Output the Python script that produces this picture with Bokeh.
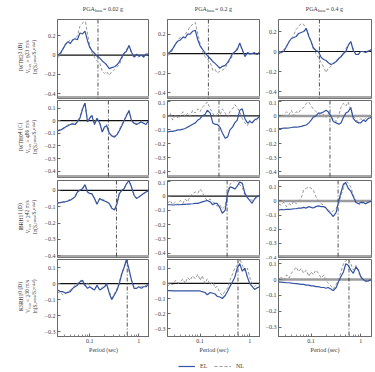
from bokeh.plotting import figure
from bokeh.models import (Span, Label, BoxAnnotation, FixedTicker, CustomJSTickFormatter,
                          Range1d, Legend, LegendItem)
from bokeh.layouts import column, row
from bokeh.embed import file_html
from bokeh.resources import INLINE

FONT = "Liberation Serif"
EL_COLOR = "#3353a3"
NL_COLOR = "#8c8c8c"
TXT = "#3a3a3a"

# ---------------- data ----------------
periods = [0.022, 0.025, 0.028, 0.032, 0.036, 0.04, 0.045, 0.05, 0.056, 0.063,
           0.071, 0.08, 0.09, 0.1, 0.11, 0.125, 0.14, 0.16, 0.18, 0.2,
           0.22, 0.25, 0.28, 0.32, 0.36, 0.4, 0.45, 0.5, 0.56, 0.63,
           0.71, 0.8, 0.9, 1.0, 1.12, 1.25, 1.4, 1.65]
pga_levels = ["0.02", "0.2", "0.4"]
sites = ["IWTH23 (B)", "IWTH04 (C)", "IBRH11 (D)", "KSRH10 (D)"]
vs30 = [923, 486, 242, 230]
site_t0 = [0.147, 0.24, 0.35, 0.58]
x_ticks = [0.1, 1]

el_r1c1 = [0.0, 0.02, 0.06, 0.11, 0.14, 0.12, 0.16, 0.17, 0.16, 0.23,
           0.22, 0.25, 0.15, 0.08, 0.05, 0.02, -0.01, -0.03, -0.06, -0.08,
           -0.1, -0.14, -0.13, -0.12, -0.1, -0.07, -0.02, 0.02, 0.04, 0.1,
           0.03, -0.02, 0.01, -0.01, 0.0, -0.02, 0.01, 0.01]
nl_r1c1 = [-0.03, 0.0, 0.05, 0.12, 0.13, 0.16, 0.15, 0.17, 0.2, 0.3,
           0.33, 0.38, 0.22, 0.1, 0.03, -0.02, -0.06, -0.08, -0.17, -0.19,
           -0.17, -0.21, -0.17, -0.15, -0.12, -0.1, -0.04, 0.02, 0.06, 0.1,
           0.02, -0.03, 0.0, -0.02, 0.0, -0.02, 0.0, 0.02]
el_r1c2 = [0.0, 0.02, 0.05, 0.1, 0.13, 0.14, 0.17, 0.16, 0.2, 0.2,
           0.23, 0.24, 0.14, 0.08, 0.05, 0.01, -0.02, -0.05, -0.08, -0.1,
           -0.12, -0.15, -0.13, -0.12, -0.09, -0.05, 0.0, 0.02, 0.04, 0.11,
           0.04, -0.03, 0.01, 0.0, 0.0, 0.01, -0.01, 0.02]
nl_r1c2 = [-0.02, 0.0, 0.04, 0.1, 0.14, 0.17, 0.16, 0.2, 0.23, 0.28,
           0.3, 0.32, 0.2, 0.1, 0.03, -0.03, -0.06, -0.09, -0.17, -0.16,
           -0.2, -0.18, -0.17, -0.15, -0.1, -0.07, -0.02, 0.02, 0.06, 0.1,
           0.03, -0.02, 0.0, -0.01, 0.0, -0.01, 0.0, 0.02]
el_r1c3 = [-0.02, -0.01, 0.0, 0.05, 0.1, 0.13, 0.14, 0.15, 0.18, 0.19,
           0.2, 0.23, 0.15, 0.1, 0.04, 0.01, 0.0, -0.06, -0.08, -0.09,
           -0.11, -0.13, -0.12, -0.1, -0.07, -0.05, -0.02, 0.0, 0.06, 0.1,
           0.01, -0.03, -0.03, 0.0, 0.0, -0.01, 0.0, 0.02]
nl_r1c3 = [-0.02, 0.0, 0.02, 0.06, 0.1, 0.12, 0.17, 0.22, 0.25, 0.28,
           0.27, 0.22, 0.16, 0.1, 0.03, -0.02, -0.06, -0.11, -0.16, -0.21,
           -0.17, -0.15, -0.12, -0.1, -0.08, -0.06, -0.01, 0.03, 0.07, 0.1,
           0.02, -0.03, -0.02, 0.0, 0.0, -0.01, 0.01, 0.02]

el_r2c1 = [-0.08, -0.075, -0.065, -0.05, -0.04, -0.03, -0.025, -0.03, -0.01, 0.02,
           0.09, 0.14, -0.01, 0.02, 0.04, -0.03, 0.02, -0.02, -0.09, -0.05,
           -0.04, -0.1, -0.12, -0.13, -0.11, -0.08, -0.04, 0.0, 0.04, 0.08,
           0.0, -0.02, -0.03, -0.02, -0.01, -0.02, -0.03, 0.01]
nl_r2c1 = [-0.08, -0.07, -0.06, -0.05, -0.03, -0.03, -0.02, -0.03, 0.0, 0.03,
           0.1, 0.14, 0.0, 0.02, 0.05, -0.02, 0.02, -0.02, -0.08, -0.05,
           -0.03, -0.09, -0.12, -0.12, -0.11, -0.07, -0.03, 0.0, 0.05, 0.08,
           0.0, -0.02, -0.02, -0.02, 0.0, -0.02, -0.02, 0.01]
el_r2c2 = [-0.115, -0.11, -0.11, -0.105, -0.1, -0.1, -0.095, -0.09, -0.08, -0.07,
           -0.06, -0.05, -0.03, -0.02, 0.0, 0.01, 0.04, 0.02, -0.05, -0.06,
           -0.06, -0.08, -0.12, -0.16, -0.15, -0.1, -0.08, -0.05, -0.03, 0.04,
           0.05, -0.02, -0.05, -0.04, -0.05, -0.03, -0.02, 0.0]
nl_r2c2 = [-0.01, 0.02, -0.03, 0.01, -0.02, 0.0, 0.03, -0.01, 0.02, 0.0,
           0.04, 0.02, 0.05, 0.03, 0.06, 0.08, 0.1, 0.05, 0.02, -0.01,
           0.02, 0.0, 0.05, 0.02, -0.01, 0.03, 0.05, 0.08, 0.06, 0.03,
           -0.02, -0.05, -0.07, -0.03, -0.05, -0.02, -0.03, 0.0]
el_r2c3 = [-0.09, -0.09, -0.088, -0.087, -0.085, -0.083, -0.08, -0.08, -0.078, -0.075,
           -0.07, -0.065, -0.05, -0.03, -0.01, 0.0, 0.02, 0.02, 0.03, 0.04,
           0.03, 0.0, -0.04, -0.05, -0.06, -0.05, -0.01, 0.02, 0.03, 0.06,
           -0.02, -0.04, -0.05, -0.05, -0.03, -0.04, -0.02, -0.01]
nl_r2c3 = [-0.01, 0.01, 0.0, 0.03, 0.01, 0.04, 0.0, 0.03, 0.02, 0.05,
           0.06, 0.09, 0.1, 0.07, 0.05, 0.03, 0.02, 0.0, 0.01, -0.01,
           0.02, -0.01, -0.02, -0.04, 0.0, 0.06, 0.09, 0.07, 0.1, 0.04,
           0.0, -0.03, -0.04, -0.02, -0.03, -0.02, -0.01, 0.0]

el_r3c1 = [-0.078, -0.075, -0.072, -0.07, -0.065, -0.06, -0.05, -0.04, -0.01, 0.0,
           0.01, 0.035, -0.01, -0.02, -0.02, -0.05, -0.085, -0.05, -0.06, -0.065,
           -0.07, -0.08, -0.11, -0.12, -0.08, -0.02, 0.0, 0.01, 0.04, 0.06,
           0.02, -0.03, -0.05, -0.04, -0.03, -0.02, -0.01, 0.0]
nl_r3c1 = [-0.075, -0.074, -0.07, -0.068, -0.062, -0.055, -0.05, -0.035, -0.01, 0.005,
           0.01, 0.03, -0.01, -0.015, -0.02, -0.05, -0.08, -0.05, -0.055, -0.06,
           -0.07, -0.08, -0.1, -0.115, -0.08, -0.02, 0.0, 0.01, 0.04, 0.055,
           0.02, -0.03, -0.05, -0.04, -0.03, -0.02, -0.01, 0.0]
el_r3c2 = [-0.06, -0.06, -0.062, -0.06, -0.06, -0.06, -0.058, -0.057, -0.055, -0.055,
           -0.053, -0.05, -0.05, -0.045, -0.04, -0.035, -0.03, -0.04, -0.06, -0.05,
           -0.05, -0.08, -0.12, -0.1, 0.02, 0.065, 0.06, 0.05, 0.07, 0.1,
           0.09, 0.02, -0.01, -0.03, -0.05, -0.02, 0.0, 0.0]
nl_r3c2 = [-0.05, -0.03, -0.06, -0.04, -0.06, -0.03, -0.05, -0.02, -0.04, 0.0,
           0.02, 0.03, 0.02, 0.05, 0.03, -0.01, -0.03, -0.02, -0.04, -0.05,
           -0.07, -0.06, -0.09, -0.07, 0.04, 0.08, 0.11, 0.1, 0.11, 0.08,
           0.06, 0.01, -0.01, -0.02, -0.03, -0.02, -0.01, 0.0]
el_r3c3 = [-0.065, -0.06, -0.062, -0.06, -0.06, -0.058, -0.055, -0.055, -0.05, -0.05,
           -0.045, -0.05, -0.04, -0.045, -0.05, -0.04, -0.035, -0.04, -0.04, -0.05,
           -0.07, -0.09, -0.11, -0.08, 0.0, 0.06, 0.12, 0.13, 0.09, 0.07,
           0.03, -0.01, -0.02, -0.01, -0.01, -0.02, -0.01, 0.0]
nl_r3c3 = [-0.02, -0.03, -0.01, -0.04, -0.02, -0.03, 0.0, -0.02, 0.0, 0.02,
           0.08, 0.09, 0.1, 0.09, 0.08, 0.03, 0.0, -0.02, -0.03, -0.05,
           -0.06, -0.08, -0.07, -0.05, -0.02, 0.04, 0.09, 0.14, 0.13, 0.1,
           0.04, 0.0, -0.02, -0.03, -0.01, -0.02, -0.01, 0.0]

el_r4c1 = [-0.04, -0.05, -0.05, -0.06, -0.055, -0.05, -0.03, -0.02, -0.01, 0.01,
           0.02, -0.01, -0.03, -0.02, -0.03, -0.04, -0.01, -0.04, -0.03, -0.02,
           0.0, -0.06, -0.1, -0.07, -0.04, 0.0, 0.06, 0.1, 0.15, 0.09,
           0.02, -0.03, -0.03, -0.02, -0.03, -0.02, -0.02, 0.0]
nl_r4c1 = [-0.06, -0.05, -0.07, -0.06, -0.05, -0.04, -0.03, -0.01, 0.0, 0.02,
           0.01, -0.02, 0.01, -0.02, -0.03, -0.03, -0.02, -0.04, -0.02, -0.03,
           -0.01, -0.05, -0.09, -0.06, -0.03, 0.01, 0.07, 0.1, 0.14, 0.08,
           0.02, -0.02, -0.03, -0.02, -0.02, -0.02, -0.01, 0.0]
el_r4c2 = [-0.048, -0.048, -0.049, -0.05, -0.05, -0.05, -0.05, -0.05, -0.05, -0.05,
           -0.05, -0.05, -0.05, -0.05, -0.055, -0.06, -0.075, -0.06, -0.065, -0.07,
           -0.085, -0.09, -0.1, -0.08, -0.05, -0.02, 0.01, 0.04, 0.1, 0.13,
           0.08, 0.1, 0.04, 0.0, -0.02, -0.04, -0.03, -0.02]
nl_r4c2 = [-0.02, 0.0, -0.01, 0.02, 0.0, 0.01, 0.03, 0.0, 0.04, 0.02,
           0.05, 0.03, 0.06, 0.02, 0.05, 0.0, 0.03, -0.01, 0.01, -0.03,
           -0.02, -0.06, -0.08, -0.05, -0.03, 0.02, 0.06, 0.1, 0.12, 0.16,
           0.12, 0.08, 0.1, 0.04, 0.0, -0.02, -0.01, 0.0]
el_r4c3 = [-0.015, -0.016, -0.018, -0.02, -0.02, -0.022, -0.024, -0.025, -0.027, -0.03,
           -0.03, -0.035, -0.035, -0.04, -0.04, -0.045, -0.045, -0.05, -0.05, -0.055,
           -0.05, -0.06, -0.07, -0.05, -0.01, 0.02, 0.05, 0.1, 0.09, 0.06,
           0.04, 0.08, 0.06, 0.02, 0.0, -0.01, -0.01, 0.0]
nl_r4c3 = [0.0, 0.02, -0.01, 0.03, 0.01, 0.04, 0.06, 0.08, 0.05, 0.07,
           0.04, 0.06, 0.02, 0.05, 0.03, 0.06, 0.04, 0.01, 0.03, -0.01,
           -0.02, -0.04, -0.06, -0.03, 0.0, 0.05, 0.1, 0.12, 0.13, 0.1,
           0.06, 0.09, 0.05, 0.01, 0.0, -0.01, 0.0, 0.0]

EL = [[el_r1c1, el_r1c2, el_r1c3], [el_r2c1, el_r2c2, el_r2c3],
      [el_r3c1, el_r3c2, el_r3c3], [el_r4c1, el_r4c2, el_r4c3]]
NL = [[nl_r1c1, nl_r1c2, nl_r1c3], [nl_r2c1, nl_r2c2, nl_r2c3],
      [nl_r3c1, nl_r3c2, nl_r3c3], [nl_r4c1, nl_r4c2, nl_r4c3]]

Y_LIMITS = [
    [(-0.45, 0.37), (-0.46, 0.35), (-0.47, 0.32)],
    [(-0.45, 0.16), (-0.44, 0.11), (-0.44, 0.11)],
    [(-0.41, 0.06), (-0.43, 0.11), (-0.40, 0.145)],
    [(-0.33, 0.15), (-0.35, 0.157), (-0.36, 0.127)],
]
Y_TICK_STEP = [0.2, 0.1, 0.1, 0.1]

# ---------------- layout geometry ----------------
LEFT_W = 40
TOP_H = 19
FRAME_W = [92, 93, 93]
BORDER_L = [17, 18, 18]
BORDER_R = [0, 0, 4]
FRAME_H = [79, 77, 77, 78]
BORDER_B = [2, 3, 2, 18]
GRID_H = sum(FRAME_H) + sum(BORDER_B)

yfmt_code = """
if (Math.abs(tick) < 1e-9) { return "0"; }
const s = Math.abs(tick).toFixed(1);
return (tick < 0 ? "\u2212" : "") + s;
"""


def make_panel(r, c):
    fw, fh = FRAME_W[c], FRAME_H[r]
    last = (r == 3)
    lo, hi = Y_LIMITS[r][c]
    p = figure(width=BORDER_L[c] + fw + BORDER_R[c], height=fh + BORDER_B[r],
               x_axis_type="log", x_range=Range1d(0.022, 1.65), y_range=Range1d(lo, hi),
               x_axis_location="below" if last else None, y_axis_location="left",
               output_backend="svg", toolbar_location=None, tools="",
               min_border_left=BORDER_L[c], min_border_right=BORDER_R[c],
               min_border_top=0, min_border_bottom=BORDER_B[r])
    p.grid.visible = False
    p.outline_line_color = "#6a6a6a"
    p.outline_line_width = 1
    p.background_fill_color = "white"
    p.border_fill_color = "white"

    step = Y_TICK_STEP[r]
    cand = [-0.4, -0.3, -0.2, -0.1, 0.0, 0.1, 0.2, 0.3] if step == 0.1 else [-0.4, -0.2, 0.0, 0.2]
    yt = [t for t in cand if lo - 1e-9 <= t <= hi + 1e-9]
    ax = p.yaxis[0]
    ax.ticker = FixedTicker(ticks=yt)
    ax.formatter = CustomJSTickFormatter(code=yfmt_code)
    ax.major_tick_in = 3
    ax.major_tick_out = 0
    ax.minor_tick_in = 0
    ax.minor_tick_out = 0
    ax.major_label_standoff = 2
    ax.axis_line_color = "#6a6a6a"
    ax.major_tick_line_color = "#6a6a6a"
    ax.major_label_text_font = FONT
    ax.major_label_text_font_size = "6px"
    ax.major_label_text_color = TXT

    if last:
        xa = p.xaxis[0]
        xa.ticker = FixedTicker(ticks=x_ticks,
                                minor_ticks=[0.03, 0.04, 0.05, 0.06, 0.07, 0.08, 0.09,
                                             0.2, 0.3, 0.4, 0.5, 0.6, 0.7, 0.8, 0.9])
        xa.formatter = CustomJSTickFormatter(code="return String(tick);")
        xa.major_tick_in = 3
        xa.major_tick_out = 0
        xa.minor_tick_in = 2
        xa.minor_tick_out = 0
        xa.major_label_standoff = 2
        xa.axis_line_color = "#6a6a6a"
        xa.major_tick_line_color = "#6a6a6a"
        xa.minor_tick_line_color = "#8a8a8a"
        xa.major_label_text_font = FONT
        xa.major_label_text_font_size = "6px"
        xa.major_label_text_color = TXT
        xa.axis_label = "Period (sec)"
        xa.axis_label_text_font = FONT
        xa.axis_label_text_font_size = "6px"
        xa.axis_label_text_font_style = "normal"
        xa.axis_label_text_color = TXT
        xa.axis_label_standoff = 1
    else:
        p.add_layout(BoxAnnotation(bottom=0, top=2.5, bottom_units="screen", top_units="screen",
                                   fill_color="#a8a8a8", fill_alpha=1, line_color=None,
                                   level="underlay"))

    if c == 2 and r > 0:
        zero = Span(location=0, dimension="width", line_color="#9c9c9c", line_width=2.5,
                    level="underlay")
    else:
        zero = Span(location=0, dimension="width", line_color="#111111", line_width=1.2,
                    level="underlay")
    p.add_layout(zero)
    p.add_layout(Span(location=site_t0[r], dimension="height", line_color="#222222",
                      line_width=0.8, line_dash="4 2 1 2", level="underlay"))

    p.line(periods, NL[r][c], line_color=NL_COLOR, line_width=0.9, line_dash="3 2")
    p.line(periods, EL[r][c], line_color=EL_COLOR, line_width=1.2)
    return p


def strip(width, height):
    s = figure(width=width, height=height, x_range=Range1d(0, width), y_range=Range1d(0, height),
               x_axis_location=None, y_axis_location=None, toolbar_location=None, tools="",
               output_backend="svg", min_border=0)
    s.grid.visible = False
    s.outline_line_color = None
    return s


# ---- top strip: column titles ----
top = strip(375, TOP_H)
col_left = []
acc = LEFT_W
for c in range(3):
    col_left.append(acc + BORDER_L[c])
    acc += BORDER_L[c] + FRAME_W[c] + BORDER_R[c]
for c in range(3):
    center = col_left[c] + FRAME_W[c] / 2
    rest = " = " + pga_levels[c] + " g"
    rest_w = 6 * (0.25 + 0.564 + 0.25 + 0.5 * (len(pga_levels[c]) - 1) + 0.25 + 0.25 + 0.5)
    total = 12 + 8 + rest_w
    x0 = center - total / 2 + 12
    ty = TOP_H - 8
    top.add_layout(Label(x=x0, y=ty, text="PGA", text_align="right", text_baseline="middle",
                         text_font=FONT, text_font_size="6px", text_color=TXT))
    top.add_layout(Label(x=x0 + 0.3, y=ty - 2.2, text="base", text_align="left",
                         text_baseline="middle", text_font=FONT, text_font_size="4.5px",
                         text_color=TXT))
    top.add_layout(Label(x=x0 + 8.3, y=ty, text=rest, text_align="left", text_baseline="middle",
                         text_font=FONT, text_font_size="6px", text_color=TXT))

# ---- left strip: row labels ----
left = strip(LEFT_W, GRID_H)
acc = 0
for r in range(4):
    center_from_top = acc + FRAME_H[r] / 2
    acc += FRAME_H[r] + BORDER_B[r]
    cy = GRID_H - center_from_top + 2
    lines = [sites[r], "V\u209b\u2083\u2080 = %d m/s" % vs30[r],
             "ln(S\u2090\u1d9c\u1d52\u1d50\u1d56/S\u2090\u02e2\u1d9c\u1d43\u02e1\u1d49\u1d48)"]
    for k, txt in enumerate(lines):
        left.add_layout(Label(x=20 + 7 * k, y=cy, text=txt, angle=1.5708, text_align="center",
                              text_baseline="middle", text_font=FONT, text_font_size="5.5px",
                              text_color=TXT))

grid_rows = [row(*[make_panel(r, c) for c in range(3)], spacing=0) for r in range(4)]
grid = column(*grid_rows, spacing=0)

# ---- legend strip ----
lf = strip(375, 17)
r_el = lf.line(x=[-10, -9], y=[-10, -9], line_color=EL_COLOR, line_width=1.2)
r_nl = lf.line(x=[-10, -9], y=[-10, -9], line_color=NL_COLOR, line_width=0.9, line_dash="3 2")
leg = Legend(items=[LegendItem(label="EL", renderers=[r_el]),
                    LegendItem(label="NL", renderers=[r_nl])],
             orientation="horizontal", location=(178, 2), padding=0, margin=0,
             spacing=6, glyph_width=17, glyph_height=8, label_height=8, label_width=8,
             label_standoff=5, label_text_font=FONT, label_text_font_size="6px",
             label_text_color=TXT, border_line_color=None,
             background_fill_alpha=0)
lf.add_layout(leg)

layout = column(top, row(left, grid, spacing=0), lf, spacing=0)

open("out.html", "w").write(file_html(layout, INLINE))
